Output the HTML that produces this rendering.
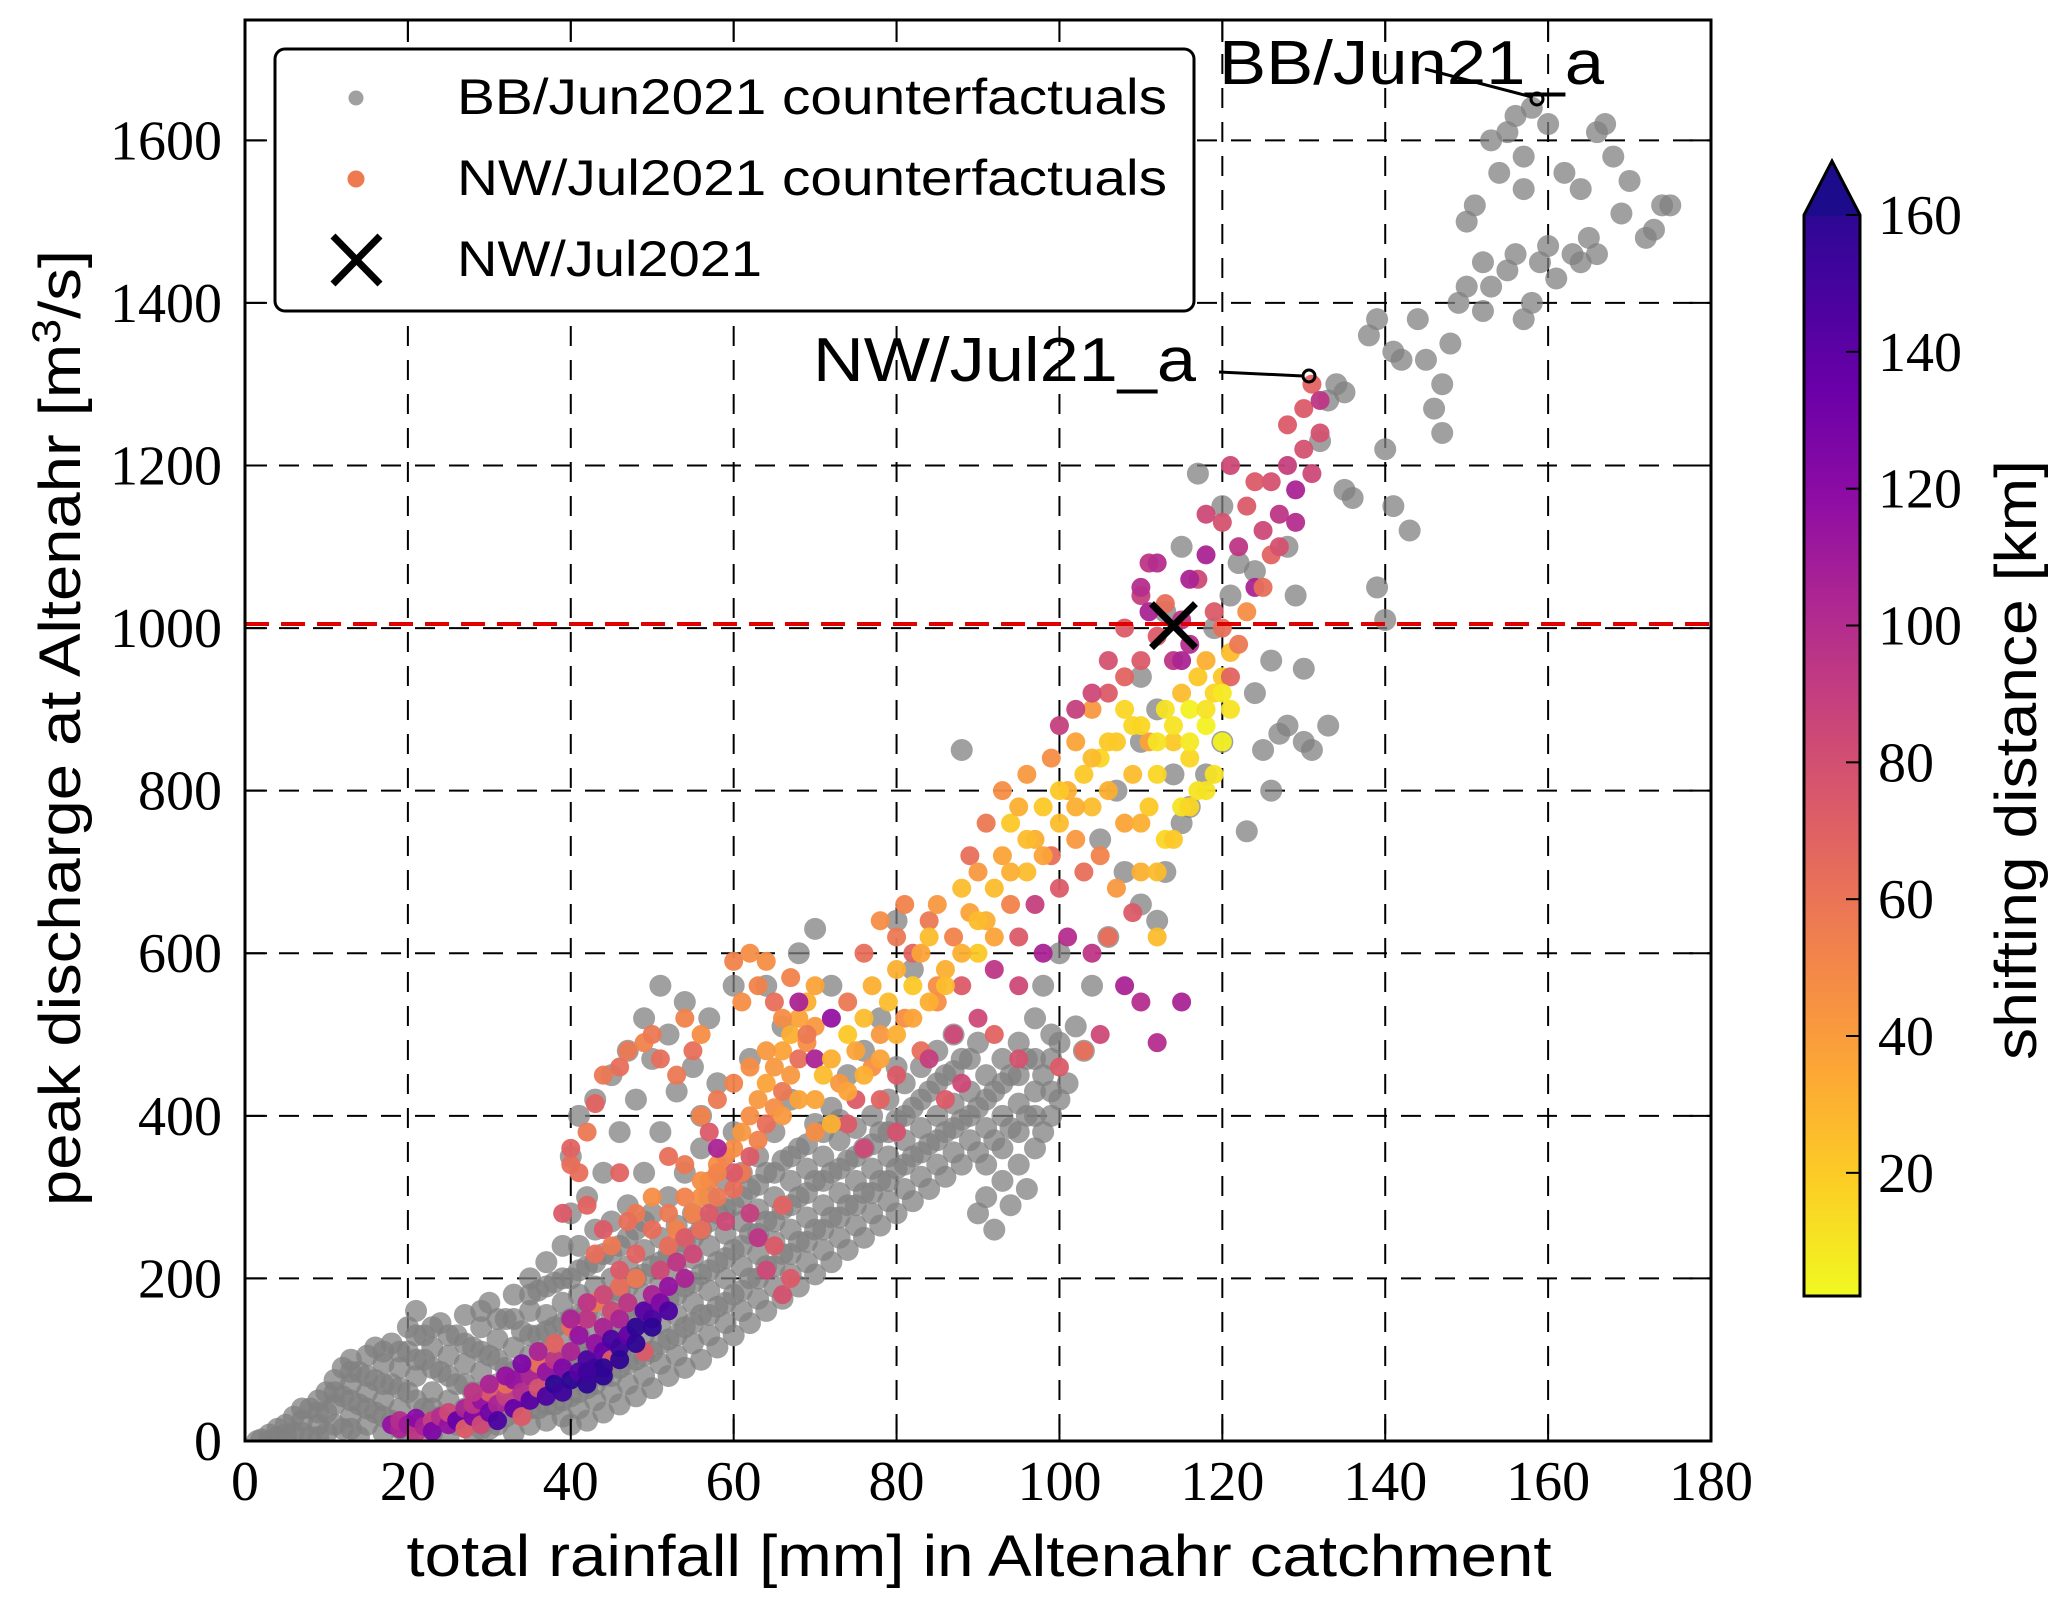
<!DOCTYPE html>
<html><head><meta charset="utf-8"><style>
html,body{margin:0;padding:0;background:#fff}
svg{display:block}
</style></head><body>
<svg id="chart" width="2067" height="1609" viewBox="0 0 2067 1609" xmlns="http://www.w3.org/2000/svg" style="position:absolute;left:0;top:0">
<defs>
<linearGradient id="cbgrad" x1="0" y1="1" x2="0" y2="0">
<stop offset="0" stop-color="#f0f921"/><stop offset="0.1" stop-color="#fcce25"/><stop offset="0.2" stop-color="#fca636"/><stop offset="0.3" stop-color="#f2844b"/><stop offset="0.4" stop-color="#e16462"/><stop offset="0.5" stop-color="#cc4778"/><stop offset="0.6" stop-color="#b12a90"/><stop offset="0.7" stop-color="#8f0da4"/><stop offset="0.8" stop-color="#6a00a8"/><stop offset="0.9" stop-color="#41049d"/><stop offset="1" stop-color="#1c0b8a"/>
</linearGradient>
<clipPath id="plotclip"><rect x="245" y="20" width="1466" height="1421"/></clipPath>
</defs>
<g id="grid"></g>
<g id="points" clip-path="url(#plotclip)"></g>
<g id="overlay"></g>
</svg>
<script>
const xTicks=[0,20,40,60,80,100,120,140,160,180];
const yTicks=[0,200,400,600,800,1000,1200,1400,1600];
const cbTicks=[20,40,60,80,100,120,140,160];
const thresholdPeak=1005;
const observedRain=[114];
const observedPeak=[1003];
const bbRain=[2,3,4,4,5,6,6,7,8,8,9,9,10,10,10,11,11,12,12,12,13,13,13,14,14,14,15,15,15,16,16,16,17,17,17,18,18,18,19,19,20,20,20,20,21,21,21,22,22,22,23,23,23,24,24,24,25,25,25,26,26,26,27,27,27,28,28,28,29,29,29,30,30,30,30,31,31,32,32,32,33,33,33,33,34,34,34,35,35,35,35,35,36,36,36,36,37,37,37,37,37,38,38,38,38,39,39,39,39,39,40,40,40,40,40,40,40,41,41,41,41,41,41,42,42,42,42,42,42,43,43,43,43,43,43,44,44,44,44,44,44,45,45,45,45,45,45,46,46,46,46,46,46,47,47,47,47,47,47,48,48,48,48,48,48,49,49,49,49,49,49,50,50,50,50,50,50,51,51,51,51,51,51,52,52,52,52,52,52,53,53,53,53,53,54,54,54,54,54,54,55,55,55,55,55,56,56,56,56,56,56,57,57,57,57,57,58,58,58,58,58,59,59,59,59,60,60,60,60,60,60,61,61,61,61,62,62,62,62,62,63,63,63,63,64,64,64,64,64,65,65,65,65,66,66,66,66,66,67,67,67,67,68,68,68,68,68,69,69,69,70,70,70,70,70,71,71,71,72,72,72,72,72,73,73,73,74,74,74,74,75,75,75,76,76,76,76,77,77,77,78,78,78,78,79,79,79,80,80,80,80,80,81,81,81,82,82,82,82,83,83,83,84,84,84,85,85,85,86,86,86,87,87,87,88,88,88,88,89,89,90,90,90,90,91,91,91,92,92,92,93,93,93,94,94,94,95,95,95,96,96,96,97,97,97,98,98,98,99,99,100,100,100,101,102,103,104,106,108,110,112,113,115,116,114,110,112,118,120,119,121,122,120,124,126,124,125,127,123,126,128,130,131,133,130,129,133,135,134,136,139,140,141,143,140,138,142,144,145,146,147,148,149,150,152,150,151,152,153,155,156,157,158,159,160,161,163,164,165,166,154,155,156,157,158,160,162,164,166,167,168,169,170,172,173,174,175,153,157,139,147,141,135,132,128,117,115,113,110,107,105,
1.5,3,5,5,7,7,9,9,11,11,13,13,13,15,15,17,17,17,19,19,19,21,21,21,23,23,23,25,25,25,27,27,27,29,29,29,29,31,31,31,33,33,33,35,35,35,35,37,37,37,37,39,39,39,39,41,41,41,41,43,43,43,43,45,45,45,45,47,47,47,47,49,49,49,49,51,51,51,53,53,53,55,55,55,57,57,57,59,59,59,61,61,61,63,63,63,65,65,65,67,67,67,69,69,69,71,71,71,73,73,73,75,75,77,77,79,79,81,81,83,83,85,85,87,87,89,89,91,91,93,93,95,95,97,97,99,99];
const bbPeak=[2,8,5,15,20,10,30,25,5,40,20,50,10,35,60,45,75,15,55,90,30,70,100,5,45,85,20,60,105,35,75,115,10,50,95,25,70,120,40,90,5,60,110,140,160,20,80,40,100,130,10,60,115,30,85,145,5,50,105,20,70,130,40,95,155,10,60,115,30,85,140,15,50,105,170,70,125,30,90,150,10,55,115,180,35,80,135,20,60,105,160,200,40,85,130,185,25,65,110,155,220,45,90,140,195,30,70,120,170,240,20,55,100,150,200,280,350,40,80,130,180,240,400,25,65,110,160,215,300,50,95,140,190,260,420,35,80,125,175,230,330,60,105,150,200,270,450,45,90,135,185,240,380,70,120,165,215,290,480,55,100,150,200,260,420,80,130,180,235,330,520,65,110,160,215,280,470,95,145,195,250,380,560,80,125,175,230,300,500,105,155,210,265,430,90,140,190,245,330,540,120,170,225,280,460,100,155,205,260,360,400,130,185,240,300,520,115,165,220,280,440,145,200,255,320,130,180,235,290,380,560,160,215,270,330,145,200,255,310,470,175,230,285,350,160,215,270,330,560,190,245,300,380,175,230,285,345,510,205,260,320,420,190,245,300,360,600,220,275,335,205,260,320,390,630,235,290,350,220,275,330,410,560,250,305,370,235,290,345,450,265,320,385,250,305,360,480,280,335,400,265,320,380,520,295,350,420,280,335,395,460,640,310,370,440,295,350,410,580,325,385,460,310,365,430,340,400,480,325,380,450,355,415,500,340,395,470,850,370,430,280,355,410,490,300,385,450,260,370,430,320,400,470,290,385,450,340,415,490,310,400,470,360,430,520,380,450,560,400,470,420,490,600,440,510,480,560,620,700,660,640,700,760,780,820,860,900,820,860,1000,1040,1080,1150,1070,960,920,850,870,750,800,880,860,850,880,950,1040,1280,1290,1300,1160,1050,1010,1150,1120,1220,1360,1330,1380,1330,1270,1300,1350,1400,1420,1390,1500,1520,1450,1420,1440,1460,1380,1400,1450,1470,1430,1460,1450,1480,1460,1560,1610,1630,1580,1640,1620,1560,1540,1610,1620,1580,1510,1550,1480,1490,1520,1520,1600,1540,1380,1240,1340,1170,1230,1100,1190,1100,1020,940,800,740,
0,0,0,8,10,40,5,35,20,60,15,50,85,40,80,30,70,110,15,65,110,50,100,130,40,90,140,30,80,130,25,70,120,15,60,110,160,20,100,150,35,85,150,40,85,130,180,45,90,135,190,50,100,145,200,60,105,155,210,70,115,165,220,80,125,175,230,95,140,190,250,105,155,205,270,120,170,220,130,180,235,145,195,250,155,210,270,170,225,285,185,240,300,200,255,315,215,270,330,230,290,350,245,305,365,260,320,380,275,335,395,290,350,305,365,320,380,340,400,355,420,370,440,385,455,400,470,340,420,360,440,380,450,400,470,430,500];
const nwRain=[18,19,19,20,21,21,22,23,23,24,25,25,26,27,27,28,28,29,29,30,30,31,31,32,32,33,33,34,34,35,35,36,36,37,37,38,38,38,39,39,40,40,40,41,41,42,42,42,43,43,43,44,44,44,45,45,45,46,46,46,47,47,48,48,49,49,50,50,51,51,52,52,53,53,54,54,55,55,56,56,57,57,58,58,59,59,60,60,61,61,62,62,63,63,64,64,65,65,66,66,67,67,68,68,69,69,70,70,
40,41,42,43,44,46,47,49,50,51,53,54,55,56,57,58,60,61,62,63,64,65,66,67,68,69,70,72,74,76,78,80,81,82,84,85,43,44,46,48,50,52,54,40,39,42,45,47,56,58,60,62,63,64,65,66,67,66,
70,71,72,73,74,75,75,76,77,77,78,79,80,80,81,82,83,83,84,85,85,86,87,87,88,88,89,89,90,90,90,91,91,92,92,93,93,94,94,95,95,95,96,96,97,97,98,98,99,99,100,100,100,101,101,102,102,103,103,104,104,105,105,106,106,107,107,108,108,109,109,110,110,111,111,112,112,113,113,114,114,115,115,116,116,117,117,118,118,119,119,120,120,121,121,100,103,105,108,110,112,115,106,109,104,95,92,88,86,84,80,78,76,74,
108,110,111,112,113,115,116,117,118,119,120,121,122,123,124,125,126,126,127,128,128,129,130,130,131,131,132,132,129,125,122,121,123,127,110,112,111,115,
60,62,64,66,68,70,72,74,76,78,80,82,84,86,88,90,92,94,96,98,100,102,104,106,108,110,112,114,116,118,120,118,116,114,112,110,50,52,54,56,58,46,48,44,42,40,36,34,32,30,28,48,46,44,42,50,52,120,124,118,116,106,104,102];
const nwPeak=[20,15,25,20,10,28,18,25,12,30,20,35,25,40,15,30,45,20,50,35,60,45,25,55,70,40,75,60,30,80,50,65,95,55,85,70,100,120,60,90,75,110,140,85,130,70,100,150,90,120,170,110,140,80,125,160,100,115,150,190,130,170,140,200,160,110,180,150,210,170,240,190,220,260,250,200,280,230,300,260,320,280,340,300,350,270,360,310,380,330,400,350,420,370,440,390,460,410,480,430,500,450,520,470,540,490,560,510,
340,330,380,415,450,460,480,490,500,470,450,520,480,500,380,420,590,540,600,560,590,540,520,570,540,500,470,520,540,600,640,620,660,600,640,560,230,260,330,280,300,350,340,360,280,290,240,270,400,360,330,280,250,210,240,180,200,290,
420,450,470,440,500,480,420,520,460,560,500,540,580,450,520,560,600,480,620,540,660,580,620,500,680,560,650,720,600,700,520,640,760,680,580,720,800,660,760,620,780,560,700,820,740,660,780,600,720,840,760,680,880,800,620,740,860,820,700,780,900,840,720,800,920,860,680,760,940,820,880,700,960,780,860,820,620,900,740,860,960,780,920,840,900,940,800,880,960,820,920,860,940,900,970,460,480,500,560,540,490,540,620,650,600,470,500,440,420,470,380,420,360,390,
1000,1040,1080,990,1030,960,980,1060,1090,1020,1130,1200,1100,1150,1050,1120,1180,1090,1140,1250,1200,1170,1220,1270,1300,1190,1240,1280,1130,1050,980,940,1020,1100,1050,1080,1020,1010,
440,460,480,400,420,380,390,430,450,470,500,520,540,560,600,640,620,700,740,720,800,780,840,860,900,880,860,880,860,900,920,800,780,740,700,760,260,280,300,320,330,210,230,180,170,150,110,95,80,70,60,120,100,90,85,140,160,1000,1180,1140,1060,960,920,900];
const nwShift=[110,100,95,105,90,115,100,85,120,95,110,80,130,100,70,120,90,80,110,125,70,100,140,85,60,130,110,95,70,100,135,75,60,140,110,150,90,65,145,120,150,100,60,135,110,150,140,90,145,110,55,130,100,150,140,80,70,145,100,60,130,90,150,55,135,70,100,140,80,120,60,110,90,50,70,100,50,80,45,60,50,70,45,55,50,80,45,60,40,55,45,70,40,50,35,60,40,45,35,55,30,40,35,60,30,45,35,40,
60,60,55,65,55,60,55,50,55,60,55,50,60,45,70,55,50,45,45,50,45,60,45,50,100,55,100,110,55,60,45,55,50,65,55,45,60,70,65,55,45,60,55,65,70,65,55,60,50,100,70,85,90,80,70,75,70,65,
35,25,30,40,20,35,70,25,45,30,40,25,30,70,45,20,35,60,25,45,40,30,50,80,25,70,35,60,20,40,80,30,55,25,90,35,45,50,20,70,30,80,25,40,30,85,20,100,60,45,25,70,85,30,95,40,35,20,60,25,40,15,50,30,70,20,40,35,65,25,15,30,70,20,35,15,25,10,15,20,90,10,25,15,5,20,10,5,30,10,15,5,20,10,25,70,60,80,100,95,95,100,60,70,90,75,65,80,70,85,75,65,80,70,
70,85,90,70,60,100,95,80,100,70,75,80,90,70,100,80,75,65,90,70,85,100,75,70,65,80,75,90,95,60,55,65,45,75,95,95,100,90,
50,45,40,40,35,45,30,35,30,35,30,35,30,25,30,25,35,30,25,35,20,30,25,20,15,15,10,10,8,10,8,10,15,20,25,30,60,55,50,45,50,70,65,80,90,100,100,120,110,100,90,150,150,150,145,150,140,60,70,80,100,75,80,85];

const SVGNS="http://www.w3.org/2000/svg";
const X0=245,X1=1711,Y0=1441,Y1=20,XMAX=180,YMAX=1748;
function sx(v){return X0+v*(X1-X0)/XMAX;}
function sy(v){return Y0-v*(Y0-Y1)/YMAX;}
const CBX=1804,CBW=56,CBTOP=215,CBBOT=1296,CBMIN=2,CBMAX=160;
function cy(v){return CBBOT-(v-CBMIN)*(CBBOT-CBTOP)/(CBMAX-CBMIN);}
const plasma=[[13,8,135],[65,4,157],[106,0,168],[143,13,164],[177,42,144],[204,71,120],[225,100,98],[242,132,75],[252,166,54],[252,206,37],[240,249,33]];
function cmap(d){let t=1-(d-CBMIN)/(CBMAX-CBMIN);t=Math.max(0,Math.min(1,t));const f=t*10,i=Math.min(9,Math.floor(f)),r=f-i;const a=plasma[i],b=plasma[i+1];return `rgb(${Math.round(a[0]+(b[0]-a[0])*r)},${Math.round(a[1]+(b[1]-a[1])*r)},${Math.round(a[2]+(b[2]-a[2])*r)})`;}
function mk(tag,attrs,parent){const e=document.createElementNS(SVGNS,tag);for(const k in attrs)e.setAttribute(k,attrs[k]);parent.appendChild(e);return e;}

const grid=document.getElementById('grid');
const pts=document.getElementById('points');
const ov=document.getElementById('overlay');

xTicks.forEach(t=>{if(t===0||t===XMAX)return;const l=mk('line',{x1:sx(t),x2:sx(t),y1:Y1,y2:Y0,stroke:'#000','stroke-width':2,'stroke-dasharray':'20,14'},grid);

});
yTicks.forEach(t=>{if(t===0)return;const l=mk('line',{x1:X0,x2:X1,y1:sy(t),y2:sy(t),stroke:'#000','stroke-width':2,'stroke-dasharray':'20,14'},grid);

});

for(let i=0;i<bbRain.length;i++){const c=mk('circle',{cx:sx(bbRain[i]),cy:sy(bbPeak[i]),r:11,fill:'#808080','fill-opacity':0.75},pts);

}
for(let i=0;i<nwRain.length;i++){const c=mk('circle',{cx:sx(nwRain[i]),cy:sy(nwPeak[i]),r:9.5,fill:cmap(nwShift[i]),'fill-opacity':0.95},pts);

}

const th=mk('line',{x1:X0,x2:X1,y1:sy(thresholdPeak),y2:sy(thresholdPeak),stroke:'#e00000','stroke-width':4,'stroke-dasharray':'24,12'},ov);



for(let i=0;i<observedRain.length;i++){const px=sx(observedRain[i]),py=sy(observedPeak[i]);const g=mk('path',{d:`M${px-22} ${py-22}L${px+22} ${py+22}M${px+22} ${py-22}L${px-22} ${py+22}`,stroke:'#000','stroke-width':7,fill:'none'},ov);

}

const fr=mk('rect',{x:X0,y:Y1,width:X1-X0,height:Y0-Y1,fill:'none',stroke:'#000','stroke-width':3},ov);



xTicks.forEach(t=>{const x=sx(t);
mk('line',{x1:x,x2:x,y1:Y0,y2:Y0-22,stroke:'#000','stroke-width':2},ov);
mk('line',{x1:x,x2:x,y1:Y1,y2:Y1+22,stroke:'#000','stroke-width':2},ov);
const tx=mk('text',{x:x,y:1500,'text-anchor':'middle','font-family':'Liberation Serif, serif','font-size':56},ov);tx.textContent=t;

});
yTicks.forEach(t=>{const y=sy(t);
mk('line',{x1:X0,x2:X0+22,y1:y,y2:y,stroke:'#000','stroke-width':2},ov);
mk('line',{x1:X1,x2:X1-22,y1:y,y2:y,stroke:'#000','stroke-width':2},ov);
const tx=mk('text',{x:222,y:y+19,'text-anchor':'end','font-family':'Liberation Serif, serif','font-size':56},ov);tx.textContent=t;

});

const cbp=`M${CBX} ${CBBOT}L${CBX} ${CBTOP}L${CBX+CBW/2} 161L${CBX+CBW} ${CBTOP}L${CBX+CBW} ${CBBOT}Z`;
const cb=mk('path',{d:cbp,fill:'url(#cbgrad)',stroke:'none'},ov);


const cbtop=mk('path',{d:`M${CBX} ${CBTOP+1}L${CBX+CBW/2} 161L${CBX+CBW} ${CBTOP+1}Z`,fill:'#1c0b8a'},ov);


const cbo=mk('path',{d:cbp,fill:'none',stroke:'#000','stroke-width':3},ov);


cbTicks.forEach(t=>{const y=cy(t);
mk('line',{x1:CBX+CBW,x2:CBX+CBW-14,y1:y,y2:y,stroke:'#000','stroke-width':2},ov);
const tx=mk('text',{x:CBX+CBW+18,y:y+19,'font-family':'Liberation Serif, serif','font-size':56},ov);tx.textContent=t;

});
</script>
<svg style="position:absolute;left:0;top:0" width="2067" height="1609" viewBox="0 0 2067 1609" xmlns="http://www.w3.org/2000/svg">
<g>
<rect x="275" y="49" width="919" height="262" rx="10" fill="#fff" stroke="#000" stroke-width="3"/>
<circle cx="356" cy="98" r="7.5" fill="#a0a0a0"/>
<text x="457" y="114" font-family="Liberation Sans, sans-serif" font-size="50" textLength="710" lengthAdjust="spacingAndGlyphs">BB/Jun2021 counterfactuals</text>
<circle cx="356" cy="179" r="8.5" fill="#ee7a50"/>
<text x="457" y="195" font-family="Liberation Sans, sans-serif" font-size="50" textLength="710" lengthAdjust="spacingAndGlyphs">NW/Jul2021 counterfactuals</text>
<path d="M333 236L380 284M380 236L333 284" stroke="#000" stroke-width="7"/>
<text x="457" y="276" font-family="Liberation Sans, sans-serif" font-size="50" textLength="305" lengthAdjust="spacingAndGlyphs">NW/Jul2021</text>
</g>
<g>
<text x="1219" y="84" font-family="Liberation Sans, sans-serif" font-size="62" textLength="385" lengthAdjust="spacingAndGlyphs">BB/Jun21_a</text>
<line x1="1425" y1="69" x2="1532" y2="97" stroke="#000" stroke-width="3"/>
<circle cx="1537" cy="99" r="6" fill="none" stroke="#000" stroke-width="3"/>
</g>
<g>
<text x="813" y="381" font-family="Liberation Sans, sans-serif" font-size="62" textLength="383" lengthAdjust="spacingAndGlyphs">NW/Jul21_a</text>
<line x1="1219" y1="372" x2="1303" y2="376" stroke="#000" stroke-width="3"/>
<circle cx="1309" cy="376" r="6" fill="none" stroke="#000" stroke-width="3"/>
</g>
<text x="979" y="1576" text-anchor="middle" font-family="Liberation Sans, sans-serif" font-size="58" textLength="1145" lengthAdjust="spacingAndGlyphs">total rainfall [mm] in Altenahr catchment</text>
<text transform="translate(80,728) rotate(-90)" text-anchor="middle" font-family="Liberation Sans, sans-serif" font-size="58" textLength="956" lengthAdjust="spacingAndGlyphs">peak discharge at Altenahr [m<tspan dy="-20" font-size="40">3</tspan><tspan dy="20">/s]</tspan></text>
<text transform="translate(2036,760) rotate(-90)" text-anchor="middle" font-family="Liberation Sans, sans-serif" font-size="58" textLength="600" lengthAdjust="spacingAndGlyphs">shifting distance [km]</text>
</svg>
</body></html>
